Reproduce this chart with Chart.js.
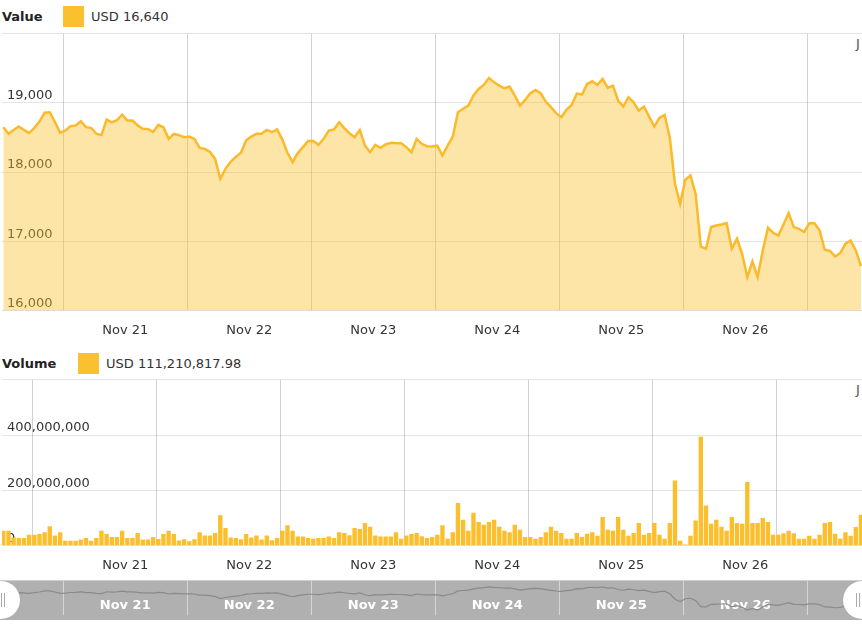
<!DOCTYPE html>
<html>
<head>
  <title>Value and Volume</title>
  <script src="https://cdn.jsdelivr.net/npm/chart.js"></script>
  <style>
    body {
      margin: 0;
      width: 862px;
      height: 625px;
      overflow: hidden;
      position: relative;
      background: #fff;
      font-family: "DejaVu Sans", Verdana, sans-serif;
      font-size: 13px;
      color: #333;
    }
    .legend { position: absolute; left: 2px; height: 21px; line-height: 21px; white-space: nowrap; }
    .legend b { color: #222; position: absolute; left: 0; top: 0; }
    .legend .swatch { position: absolute; top: 0; width: 21px; height: 21px; background: #fbc02d; }
    .legend .txt { position: absolute; top: 0; }
    canvas { position: absolute; }
    .cut { position: absolute; left: 856px; color: #555; font-size: 13px; }
    #band { position: absolute; left: 0; top: 580px; width: 862px; height: 39px; background: #b0b0b0; border-top: 1px solid #cfcfcf; }
    .handle { position: absolute; top: 581px; width: 40px; height: 38px; border-radius: 19px; background: #fff; box-shadow: 0 0 1px #999; }
    .grip { position: absolute; top: 12px; width: 1px; height: 14px; background: #aaa; }
  </style>
</head>
<body>
  <div class="legend" style="top:6px"><b>Value</b><span class="swatch" style="left:61px"></span><span class="txt" style="left:89px">USD 16,640</span></div>
  <span class="cut" style="top:36px">J</span>
  <canvas id="valueChart" width="870" height="329" style="left:-8px; top:21px"></canvas>

  <div class="legend" style="top:353px"><b>Volume</b><span class="swatch" style="left:76px"></span><span class="txt" style="left:104px">USD 111,210,817.98</span></div>
  <span class="cut" style="top:382px">J</span>
  <canvas id="volumeChart" width="870" height="218" style="left:-8px; top:367px"></canvas>

  <div id="band"></div>
  <canvas id="navChart" width="860" height="38" style="left:2px; top:581px"></canvas>
  <div class="handle" style="left:-20px"><span class="grip" style="left:21px"></span><span class="grip" style="left:24px"></span></div>
  <div class="handle" style="left:843px"><span class="grip" style="left:13px"></span><span class="grip" style="left:16px"></span></div>

  <script>
    // hourly samples, first one at 11:24 on Nov 20 (hours counted from Nov 21 00:00)
    const firstHour = -11.6;
    const days = ['Nov 21', 'Nov 22', 'Nov 23', 'Nov 24', 'Nov 25', 'Nov 26'];
    const tickHours = [0, 12, 24, 36, 48, 60, 72, 84, 96, 108, 120, 132, 144];

    // USD price
    const prices = [
      18650, 18555, 18610, 18660, 18610, 18565, 18640, 18730, 18860, 18866,
      18725, 18570, 18600, 18665, 18673, 18735, 18650, 18640, 18555, 18535,
      18760, 18720, 18750, 18830, 18745, 18746, 18675, 18627, 18625, 18578,
      18683, 18650, 18481, 18553, 18534, 18505, 18513, 18480, 18350, 18336,
      18290, 18191, 17902, 18047, 18150, 18220, 18280, 18460, 18514, 18553,
      18553, 18610, 18577, 18616, 18470, 18280, 18143, 18275, 18361, 18448,
      18448, 18394, 18481, 18600, 18616, 18721, 18635, 18562, 18505, 18610,
      18384, 18287, 18394, 18350, 18399, 18423, 18419, 18419, 18361, 18287,
      18481, 18409, 18375, 18370, 18384, 18240, 18384, 18514, 18866, 18915,
      18962, 19107, 19203, 19261, 19361, 19298, 19251, 19212, 19237, 19107,
      18962, 19044, 19140, 19188, 19140, 19020, 18939, 18852, 18794, 18900,
      18970, 19135, 19121, 19275, 19313, 19261, 19347, 19217, 19251, 19035,
      18948, 19083, 19010, 18890, 18948, 18803, 18659, 18785, 18828, 18500,
      17830, 17542, 17889, 17951, 17686, 16925, 16891, 17205, 17228, 17243,
      17262, 16891, 17036, 16819, 16482, 16708, 16482, 16867, 17195, 17123,
      17084, 17243, 17407, 17205, 17180, 17133, 17262, 17262, 17156, 16877,
      16859, 16780, 16829, 16964, 17012, 16867, 16640
    ];

    // USD volume, millions
    const volumes = [
      53, 53, 29, 27, 27, 39, 39, 41, 48, 69,
      36, 48, 17, 17, 17, 21, 27, 17, 27, 53,
      41, 30, 30, 53, 27, 27, 45, 21, 21, 30,
      23, 41, 53, 41, 18, 22, 15, 22, 48, 36,
      36, 45, 109, 63, 29, 27, 22, 41, 29, 36,
      21, 36, 19, 27, 53, 73, 53, 32, 32, 27,
      24, 27, 27, 32, 27, 48, 45, 37, 63, 59,
      81, 68, 36, 32, 32, 32, 48, 24, 36, 41,
      45, 33, 27, 30, 39, 73, 24, 48, 154, 93,
      53, 118, 85, 75, 85, 93, 68, 53, 48, 75,
      57, 30, 30, 24, 30, 48, 68, 53, 45, 24,
      24, 45, 30, 42, 48, 35, 103, 57, 53, 103,
      57, 35, 45, 81, 39, 45, 81, 39, 24, 81,
      235, 17, 3, 35, 90, 394, 145, 78, 93, 68,
      53, 103, 81, 78, 230, 81, 81, 99, 85, 39,
      39, 44, 53, 44, 24, 24, 35, 24, 39, 81,
      85, 42, 24, 48, 35, 67, 111.21
    ];

    const hours = prices.map((p, i) => firstHour + i);
    const pricePoints = prices.map((p, i) => ({ x: hours[i], y: p }));
    const volumePoints = volumes.map((v, i) => ({ x: hours[i], y: v }));

    Chart.defaults.font = { family: '"DejaVu Sans", Verdana, sans-serif', size: 13 };
    Chart.defaults.color = '#333';

    function timeAxis(gridColor, labelColor, mirror, padding) {
      return {
        type: 'linear',
        min: -11.85,
        max: 154.6,
        border: { display: !mirror, color: '#ddd' },
        grid: {
          drawTicks: false,
          color: ctx => (ctx.tick && ctx.tick.value % 24 === 0) ? gridColor : 'rgba(0,0,0,0)'
        },
        afterBuildTicks: axis => { axis.ticks = tickHours.map(v => ({ value: v })); },
        ticks: {
          autoSkip: false,
          maxRotation: 0,
          mirror: mirror,
          padding: padding,
          color: labelColor,
          font: mirror ? { size: 13, weight: 'bold' } : undefined,
          callback: v => v % 24 === 12 ? days[(v - 12) / 24] : ''
        }
      };
    }

    const common = {
      responsive: false,
      animation: false,
      events: [],
      plugins: { legend: { display: false }, tooltip: { enabled: false } }
    };

    new Chart(document.getElementById('valueChart'), {
      type: 'line',
      data: {
        datasets: [{
          data: pricePoints,
          borderColor: '#fbba2a',
          borderWidth: 2.5,
          backgroundColor: 'rgba(251,190,45,0.42)',
          fill: 'start',
          pointRadius: 0,
          tension: 0
        }]
      },
      options: Object.assign({}, common, {
        layout: { padding: { top: 5 } },
        scales: {
          x: timeAxis('#d2d2d2', '#333', false, 12),
          y: {
            min: 16000,
            max: 20000,
            z: 1,
            border: { display: false },
            grid: { drawTicks: false, color: 'rgba(0,0,0,0.1)' },
            ticks: {
              stepSize: 1000,
              mirror: true,
              padding: 5,
              labelOffset: -7,
              callback: v => v === 20000 ? '' : v.toLocaleString('en-US')
            }
          }
        }
      })
    });

    new Chart(document.getElementById('volumeChart'), {
      type: 'bar',
      data: {
        datasets: [{
          data: volumePoints,
          backgroundColor: '#fbbf2e',
          barPercentage: 0.85,
          categoryPercentage: 1
        }]
      },
      options: Object.assign({}, common, {
        layout: { padding: { top: 5 } },
        scales: {
          x: Object.assign(timeAxis('#d2d2d2', '#333', false, 12), { offset: false }),
          y: {
            min: 0,
            max: 600,
            z: 1,
            border: { display: false },
            grid: { drawTicks: false, color: 'rgba(0,0,0,0.1)' },
            ticks: {
              stepSize: 200,
              mirror: true,
              padding: 5,
              labelOffset: -7,
              callback: v => v === 600 ? '' : (v * 1e6).toLocaleString('en-US')
            }
          }
        }
      })
    });

    new Chart(document.getElementById('navChart'), {
      type: 'line',
      data: {
        datasets: [{
          data: pricePoints,
          borderColor: '#8a8a8a',
          borderWidth: 1.2,
          fill: false,
          pointRadius: 0,
          tension: 0
        }]
      },
      options: Object.assign({}, common, {
        layout: { padding: 0 },
        scales: {
          x: timeAxis('#d6d6d6', '#ffffff', true, 2),
          y: { display: false, min: 15880, max: 20090 }
        }
      })
    });
  </script>
</body>
</html>
